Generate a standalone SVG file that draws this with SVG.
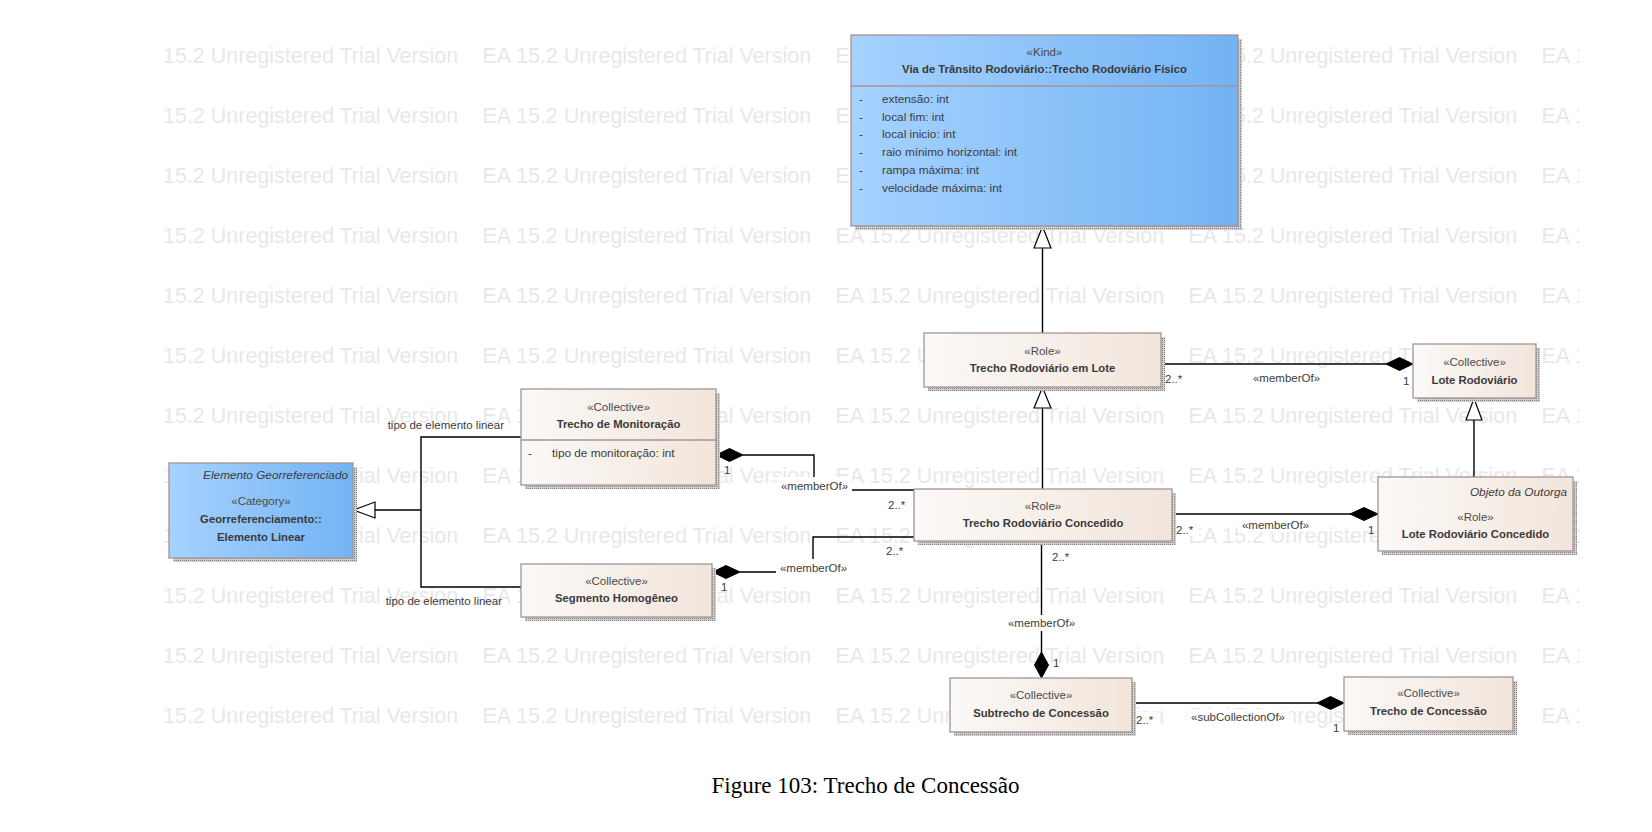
<svg xmlns="http://www.w3.org/2000/svg" width="1652" height="832" viewBox="0 0 1652 832">
<defs>
<linearGradient id="blue" x1="0" y1="0" x2="1" y2="0"><stop offset="0" stop-color="#a6d2ff"/><stop offset="1" stop-color="#73b3f3"/></linearGradient>
<linearGradient id="beige" x1="0" y1="0" x2="1" y2="0"><stop offset="0" stop-color="#fbf9f7"/><stop offset="1" stop-color="#f2e5db"/></linearGradient>
<pattern id="sh" width="2" height="2" patternUnits="userSpaceOnUse"><rect width="2" height="2" fill="#d0d0d0"/><rect width="1" height="1" fill="#808080"/></pattern>
<clipPath id="wmclip"><rect x="159" y="0" width="1421" height="832"/></clipPath>
</defs>
<style>
.wm{font-family:"Liberation Sans",Arial,sans-serif;font-size:21.5px;fill:#e8e8e8}
.box{stroke:#a39494;stroke-width:1.3}
.shadow{fill:url(#sh)}
.st{font-family:"Liberation Sans",Arial,sans-serif;font-size:11.5px;fill:#4a4a4a;text-anchor:middle}
.tt{font-family:"Liberation Sans",Arial,sans-serif;font-size:11.3px;font-weight:bold;fill:#3a3a3a;text-anchor:middle}
.at{font-family:"Liberation Sans",Arial,sans-serif;font-size:11.8px;fill:#3c3c3c}
.it{font-family:"Liberation Sans",Arial,sans-serif;font-size:11.8px;font-style:italic;fill:#3c3c3c;text-anchor:end}
.lbl{font-family:"Liberation Sans",Arial,sans-serif;font-size:11.5px;fill:#3c3c3c}
.mid{text-anchor:middle}
.ln{fill:none;stroke:#000;stroke-width:1.4}
.gen{fill:#fff;stroke:#000;stroke-width:1.2}
.dia{fill:#000;stroke:#000;stroke-width:1}
.bg{fill:#fff}
</style>
<rect width="1652" height="832" fill="#fff"/>
<g id="watermark" clip-path="url(#wmclip)">
<g id="wmrow">
<text class="wm" x="129.5" y="62.5">EA 15.2 Unregistered Trial Version</text>
<text class="wm" x="482.5" y="62.5">EA 15.2 Unregistered Trial Version</text>
<text class="wm" x="835.5" y="62.5">EA 15.2 Unregistered Trial Version</text>
<text class="wm" x="1188.5" y="62.5">EA 15.2 Unregistered Trial Version</text>
<text class="wm" x="1541.5" y="62.5">EA 15.2 Unregistered Trial Version</text>
</g>
<use href="#wmrow" y="60"/>
<use href="#wmrow" y="120"/>
<use href="#wmrow" y="180"/>
<use href="#wmrow" y="240"/>
<use href="#wmrow" y="300"/>
<use href="#wmrow" y="360"/>
<use href="#wmrow" y="420"/>
<use href="#wmrow" y="480"/>
<use href="#wmrow" y="540"/>
<use href="#wmrow" y="600"/>
<use href="#wmrow" y="660"/>
</g>

<g id="connectors">
<line class="ln" x1="1042.5" y1="333" x2="1042.5" y2="248"/>
<polygon class="gen" points="1042.5,226.5 1034,248 1051,248"/>
<line class="ln" x1="1042.5" y1="489" x2="1042.5" y2="408"/>
<polygon class="gen" points="1042.5,387.5 1034,408 1051,408"/>
<line class="ln" x1="1474" y1="477" x2="1474" y2="420"/>
<polygon class="gen" points="1474,398.5 1466,420 1482,420"/>
<polyline class="ln" points="521,437 421,437 421,587 521,587"/>
<line class="ln" x1="421" y1="510" x2="375" y2="510"/>
<polygon class="gen" points="353.5,510 375,502 375,518"/>
<line class="ln" x1="1161" y1="364" x2="1387" y2="364"/>
<polygon class="dia" points="1413,364 1399.5,357.5 1386,364 1399.5,370.5"/>
<line class="ln" x1="1172" y1="514" x2="1351" y2="514"/>
<polygon class="dia" points="1378,514 1364,507.5 1350,514 1364,520.5"/>
<polyline class="ln" points="743,455 814,455 814,490 914,490"/>
<polygon class="dia" points="716,455 729.5,448.5 743,455 729.5,461.5"/>
<polyline class="ln" points="740,572 813,572 813,537 914,537"/>
<polygon class="dia" points="712.5,572 726,565.5 740,572 726,578.5"/>
<line class="ln" x1="1041.5" y1="541" x2="1041.5" y2="653"/>
<polygon class="dia" points="1041.5,678 1048.5,665 1041.5,652 1034.5,665"/>
<line class="ln" x1="1132" y1="703" x2="1318" y2="703"/>
<polygon class="dia" points="1344,703 1330.5,696.5 1317,703 1330.5,709.5"/>
<text class="lbl" x="504" y="429" text-anchor="end">tipo de elemento linear</text>
<text class="lbl" x="502" y="605" text-anchor="end">tipo de elemento linear</text>
<rect class="bg" x="777" y="477" width="75" height="16"/>
<text class="lbl mid" x="814.5" y="489.5">«memberOf»</text>
<rect class="bg" x="776" y="559" width="75" height="16"/>
<text class="lbl mid" x="813.5" y="571.5">«memberOf»</text>
<text class="lbl" x="724" y="474">1</text>
<text class="lbl" x="721" y="591">1</text>
<text class="lbl" x="888" y="509">2..*</text>
<text class="lbl" x="886" y="555">2..*</text>
<rect class="bg" x="1163" y="372" width="24" height="14"/>
<text class="lbl" x="1165" y="383">2..*</text>
<rect class="bg" x="1249" y="370" width="75" height="15"/>
<text class="lbl mid" x="1286.5" y="382">«memberOf»</text>
<text class="lbl" x="1403" y="385">1</text>
<rect class="bg" x="1175" y="522" width="24" height="14"/>
<text class="lbl" x="1176" y="534">2..*</text>
<rect class="bg" x="1238" y="517" width="75" height="15"/>
<text class="lbl mid" x="1275.5" y="529">«memberOf»</text>
<text class="lbl" x="1368" y="534">1</text>
<text class="lbl" x="1052" y="561">2..*</text>
<rect class="bg" x="1004" y="615" width="75" height="16"/>
<text class="lbl mid" x="1041.5" y="627">«memberOf»</text>
<text class="lbl" x="1053" y="667">1</text>
<rect class="bg" x="1135" y="712" width="24" height="14"/>
<text class="lbl" x="1136" y="724">2..*</text>
<rect class="bg" x="1187" y="709" width="102" height="15"/>
<text class="lbl mid" x="1238" y="721">«subCollectionOf»</text>
<text class="lbl" x="1333" y="732">1</text>
</g>

<g id="node-kind">
<rect class="shadow" x="855" y="39" width="387" height="191"/>
<rect class="box" x="851" y="35" width="387" height="191" fill="url(#blue)"/>
<line class="box" x1="851" y1="86" x2="1238" y2="86"/>
<text class="st" x="1044.5" y="56">«Kind»</text>
<text class="tt" x="1044.5" y="73">Via de Trânsito Rodoviário::Trecho Rodoviário Físico</text>
<text class="at" x="859" y="103">-</text><text class="at" x="882" y="103">extensão: int</text>
<text class="at" x="859" y="121">-</text><text class="at" x="882" y="121">local fim: int</text>
<text class="at" x="859" y="138">-</text><text class="at" x="882" y="138">local inicio: int</text>
<text class="at" x="859" y="156">-</text><text class="at" x="882" y="156">raio mínimo horizontal: int</text>
<text class="at" x="859" y="174">-</text><text class="at" x="882" y="174">rampa máxima: int</text>
<text class="at" x="859" y="192">-</text><text class="at" x="882" y="192">velocidade máxima: int</text>
</g>

<g id="node-trecho-lote">
<rect class="shadow" x="928" y="337" width="237" height="54"/>
<rect class="box" x="924" y="333" width="237" height="54" fill="url(#beige)"/>
<text class="st" x="1042.5" y="355">«Role»</text>
<text class="tt" x="1042.5" y="372">Trecho Rodoviário em Lote</text>
</g>

<g id="node-lote">
<rect class="shadow" x="1417" y="348" width="123" height="54"/>
<rect class="box" x="1413" y="344" width="123" height="54" fill="url(#beige)"/>
<text class="st" x="1474.5" y="366">«Collective»</text>
<text class="tt" x="1474.5" y="384">Lote Rodoviário</text>
</g>

<g id="node-monitoracao">
<rect class="shadow" x="525" y="393" width="195" height="96"/>
<rect class="box" x="521" y="389" width="195" height="96" fill="url(#beige)"/>
<line class="box" x1="521" y1="440" x2="716" y2="440"/>
<text class="st" x="618.5" y="411">«Collective»</text>
<text class="tt" x="618.5" y="428">Trecho de Monitoração</text>
<text class="at" x="528" y="457">-</text><text class="at" x="552" y="457">tipo de monitoração: int</text>
</g>

<g id="node-elemento-linear">
<rect class="shadow" x="173" y="467" width="184" height="95"/>
<rect class="box" x="169" y="463" width="184" height="95" fill="url(#blue)"/>
<text class="it" x="348" y="479">Elemento Georreferenciado</text>
<text class="st" x="261" y="505">«Category»</text>
<text class="tt" x="261" y="523">Georreferenciamento::</text>
<text class="tt" x="261" y="541">Elemento Linear</text>
</g>

<g id="node-trecho-concedido">
<rect class="shadow" x="918" y="493" width="258" height="52"/>
<rect class="box" x="914" y="489" width="258" height="52" fill="url(#beige)"/>
<text class="st" x="1043" y="510">«Role»</text>
<text class="tt" x="1043" y="527">Trecho Rodoviário Concedido</text>
</g>

<g id="node-lote-concedido">
<rect class="shadow" x="1382" y="481" width="195" height="74"/>
<rect class="box" x="1378" y="477" width="195" height="74" fill="url(#beige)"/>
<text class="it" x="1567" y="496">Objeto da Outorga</text>
<text class="st" x="1475.5" y="521">«Role»</text>
<text class="tt" x="1475.5" y="538">Lote Rodoviário Concedido</text>
</g>

<g id="node-segmento">
<rect class="shadow" x="525" y="568" width="191" height="53"/>
<rect class="box" x="521" y="564" width="191" height="53" fill="url(#beige)"/>
<text class="st" x="616.5" y="585">«Collective»</text>
<text class="tt" x="616.5" y="602">Segmento Homogêneo</text>
</g>

<g id="node-subtrecho">
<rect class="shadow" x="954" y="682" width="182" height="54"/>
<rect class="box" x="950" y="678" width="182" height="54" fill="url(#beige)"/>
<text class="st" x="1041" y="699">«Collective»</text>
<text class="tt" x="1041" y="717">Subtrecho de Concessão</text>
</g>

<g id="node-trecho-concessao">
<rect class="shadow" x="1348" y="681" width="169" height="54"/>
<rect class="box" x="1344" y="677" width="169" height="54" fill="url(#beige)"/>
<text class="st" x="1428.5" y="697">«Collective»</text>
<text class="tt" x="1428.5" y="715">Trecho de Concessão</text>
</g>

<text x="865.5" y="793" text-anchor="middle" font-family="'Liberation Serif','Times New Roman',serif" font-size="23" fill="#000">Figure 103: Trecho de Concessão</text>
</svg>
